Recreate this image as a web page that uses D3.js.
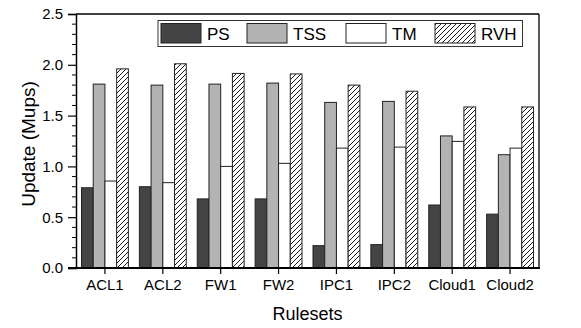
<!DOCTYPE html>
<html><head><meta charset="utf-8">
<script src="https://cdn.jsdelivr.net/npm/d3@7"></script>
<style>body{margin:0;background:#fff}svg{display:block}text{font-family:"Liberation Sans",Arial,sans-serif;fill:#000}</style>
</head><body><svg id="c" width="581" height="328"></svg>
<script>
const categories = ["ACL1","ACL2","FW1","FW2","IPC1","IPC2","Cloud1","Cloud2"];
const seriesNames = ["PS","TSS","TM","RVH"];
const PS  = [0.79,0.80,0.68,0.68,0.22,0.23,0.62,0.53];
const TSS = [1.81,1.80,1.81,1.82,1.63,1.64,1.30,1.115];
const TM  = [0.856,0.84,1.00,1.03,1.18,1.19,1.246,1.18];
const RVH = [1.96,2.01,1.915,1.91,1.80,1.74,1.585,1.585];
const yTicks = [0.0,0.5,1.0,1.5,2.0,2.5];
const seriesData = [PS,TSS,TM,RVH];
const fills = ["#444444","#b3b3b3","#ffffff","url(#hatch)"];

const svg = d3.select("#c");
const m = {l:76, r:539, t:14, b:268};
const defs = svg.append("defs");
const pat = defs.append("pattern").attr("id","hatch").attr("patternUnits","userSpaceOnUse")
  .attr("width",5).attr("height",5);
pat.append("rect").attr("width",5).attr("height",5).attr("fill","#fff");
pat.append("path").attr("d","M-1,1 l2,-2 M0,5 l5,-5 M4,6 l2,-2").attr("stroke","#000").attr("stroke-width",0.9);

const x0 = d3.scaleBand().domain(categories).range([m.l,m.r]).paddingInner(0.19).paddingOuter(0.095);
const x1 = d3.scaleBand().domain(seriesNames).range([0,x0.bandwidth()]);
const y = d3.scaleLinear().domain([0,2.5]).range([m.b,m.t]);

// bars
const g = svg.append("g");
seriesNames.forEach((s,si)=>{
  g.selectAll(null).data(seriesData[si]).enter().append("rect")
    .attr("x",(d,i)=>x0(categories[i])+x1(s))
    .attr("y",d=>y(d))
    .attr("width",x1.bandwidth())
    .attr("height",d=>y(0)-y(d))
    .attr("fill",fills[si])
    .attr("stroke","#222").attr("stroke-width",1);
});

// frame
svg.append("line").attr("x1",m.l).attr("x2",m.r).attr("y1",m.t).attr("y2",m.t).attr("stroke","#000").attr("stroke-width",1.3);
svg.append("line").attr("x1",m.r).attr("x2",m.r).attr("y1",m.t).attr("y2",m.b).attr("stroke","#000").attr("stroke-width",1.3);

// y axis
const yAxis = svg.append("g").attr("transform",`translate(${m.l},0)`)
  .call(d3.axisLeft(y).tickValues(yTicks).tickFormat(d3.format(".1f")).tickSize(8).tickPadding(5));
yAxis.select(".domain").attr("stroke-width",1.5);
yAxis.selectAll(".tick line").attr("stroke-width",1.2);
yAxis.selectAll("text").style("font-size","15px").style("font-family","Liberation Sans, Arial, sans-serif");
const minor = d3.range(0,26).map(i=>i/10).filter(v=>Math.abs(v*2-Math.round(v*2))>1e-6);
svg.append("g").selectAll("line").data(minor).enter().append("line")
  .attr("x1",m.l-4).attr("x2",m.l).attr("y1",d=>y(d)).attr("y2",d=>y(d)).attr("stroke","#000").attr("stroke-width",1);

// x axis
const xAxis = svg.append("g").attr("transform",`translate(0,${m.b})`)
  .call(d3.axisBottom(x0).tickSize(6).tickPadding(5).tickSizeOuter(0));
xAxis.select(".domain").attr("stroke-width",2).attr("d",`M${m.l-8},0H${m.r+1}`);
xAxis.selectAll(".tick line").attr("stroke-width",1.2);
xAxis.selectAll("text").style("font-size","15px").style("font-family","Liberation Sans, Arial, sans-serif");

// axis titles
svg.append("text").attr("x",(m.l+m.r)/2).attr("y",320).attr("text-anchor","middle").style("font-size","18px").text("Rulesets");
svg.append("text").attr("transform",`translate(35,144) rotate(-90)`).attr("text-anchor","middle").style("font-size","19px").text("Update (Mups)");

// legend
const lg = svg.append("g");
lg.append("rect").attr("x",158).attr("y",20.5).attr("width",364.5).attr("height",26).attr("fill","#fff").attr("stroke","#333").attr("stroke-width",1);
const lx = [161,247,346,435];
seriesNames.forEach((s,i)=>{
  lg.append("rect").attr("x",lx[i]).attr("y",23.5).attr("width",40).attr("height",19.5).attr("fill",fills[i]).attr("stroke","#222").attr("stroke-width",1);
  lg.append("text").attr("x",lx[i]+46).attr("y",39.5).style("font-size","17px").text(s);
});
</script></body></html>
